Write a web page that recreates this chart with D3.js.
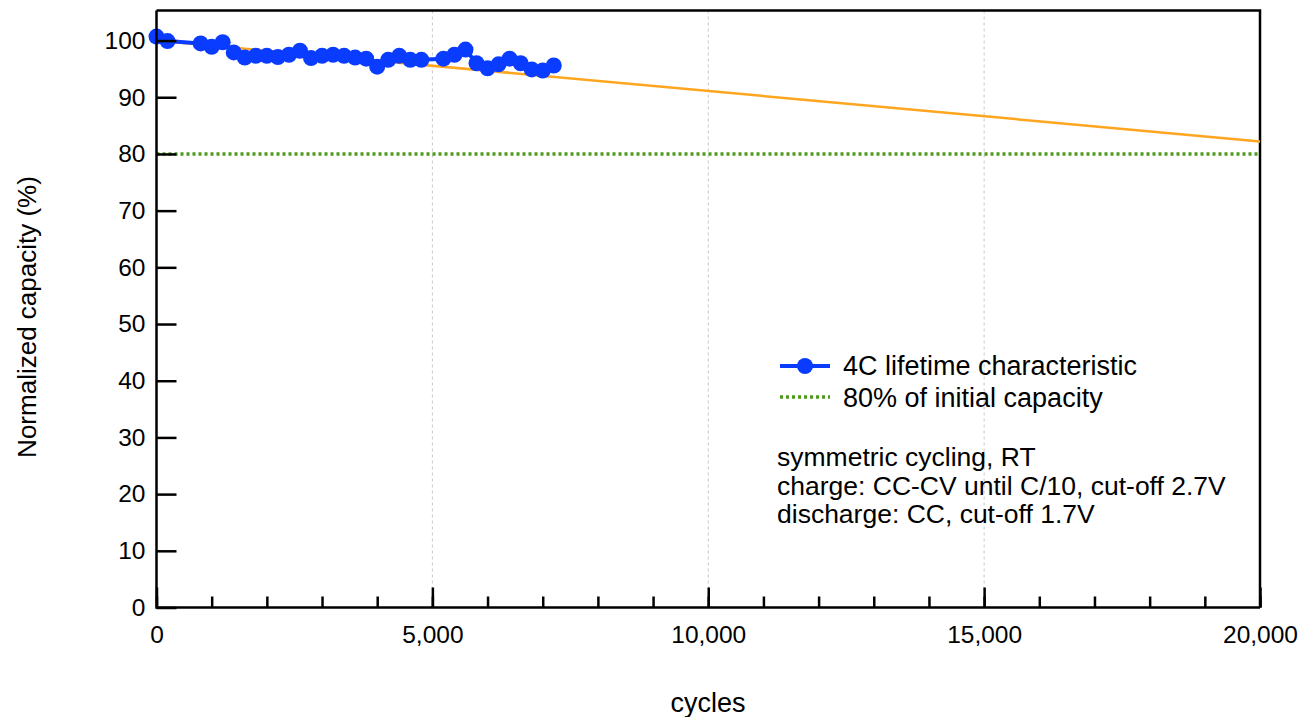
<!DOCTYPE html>
<html>
<head>
<meta charset="utf-8">
<script src="https://cdn.jsdelivr.net/npm/d3@7/dist/d3.min.js"></script>
<style>
  html, body { margin: 0; padding: 0; background: #fff; }
  svg { display: block; font-family: "Liberation Sans", Arial, sans-serif; }
</style>
</head>
<body>
<svg id="chart" width="1304" height="717"></svg>
<script>
// Measured cycles and normalized capacity for the 4C test
const cycles = [0, 200, 800, 1000, 1200, 1400, 1600, 1800, 2000, 2200, 2400, 2600, 2800, 3000,
  3200, 3400, 3600, 3800, 4000, 4200, 4400, 4600, 4800, 5200, 5400, 5600, 5800, 6000, 6200,
  6400, 6600, 6800, 7000, 7200];
const capacity = [100.7, 99.9, 99.5, 98.9, 99.7, 97.9, 97.0, 97.3, 97.3, 97.1, 97.5, 98.2, 96.9, 97.3,
  97.5, 97.3, 97.0, 96.8, 95.4, 96.6, 97.3, 96.6, 96.6, 96.8, 97.5, 98.4, 96.0, 95.1, 95.8,
  96.8, 96.0, 94.9, 94.7, 95.6];

// Linear fade projection (start and end of the fitted line)
const trendCycles = [0, 20000];
const trendCapacity = [100.0, 82.2];

const endOfLifeLevel = 80;

const xTicks = [0, 5000, 10000, 15000, 20000];
const xMinorTicks = d3.range(0, 20001, 1000);
const yTicks = [0, 10, 20, 30, 40, 50, 60, 70, 80, 90, 100];

const legendLabels = ["4C lifetime characteristic", "80% of initial capacity"];
const noteLines = ["symmetric cycling, RT", "charge: CC-CV until C/10, cut-off 2.7V", "discharge: CC, cut-off 1.7V"];

const svg = d3.select("#chart");
const plotL = 156.5, plotR = 1260, plotT = 10.5, plotB = 607.5;

const x = d3.scaleLinear().domain([0, 20000]).range([plotL, plotR]);
const y = d3.scaleLinear().domain([0, 105.3]).range([plotB, plotT]);

const blue = "#0a3cff", orange = "#ffa51f", green = "#4f9a1c";

// vertical dashed grid at the major cycle ticks
svg.append("g").selectAll("line")
  .data(xTicks.filter(d => d > 0 && d < 20000))
  .join("line")
  .attr("x1", d => x(d)).attr("x2", d => x(d))
  .attr("y1", plotT).attr("y2", plotB)
  .attr("stroke", "#c8c8c8").attr("stroke-width", 1)
  .attr("stroke-dasharray", "3,3");

// frame: top and right border
svg.append("path")
  .attr("d", `M${plotL},${plotT}H${plotR}V${plotB}`)
  .attr("fill", "none").attr("stroke", "#000").attr("stroke-width", 2.5);

// 80% reference line
svg.append("line")
  .attr("x1", x(0)).attr("x2", x(20000))
  .attr("y1", y(endOfLifeLevel)).attr("y2", y(endOfLifeLevel))
  .attr("stroke", green).attr("stroke-width", 3.5)
  .attr("stroke-dasharray", "3,3");

// projection line
svg.append("path")
  .datum(d3.zip(trendCycles, trendCapacity))
  .attr("fill", "none").attr("stroke", orange).attr("stroke-width", 2.5)
  .attr("d", d3.line().x(d => x(d[0])).y(d => y(d[1])));

// measured series
const pts = d3.zip(cycles, capacity);
svg.append("path")
  .datum(pts)
  .attr("fill", "none").attr("stroke", blue).attr("stroke-width", 4)
  .attr("stroke-linejoin", "round")
  .attr("d", d3.line().x(d => x(d[0])).y(d => y(d[1])));
svg.append("g").selectAll("circle")
  .data(pts).join("circle")
  .attr("cx", d => x(d[0])).attr("cy", d => y(d[1]))
  .attr("r", 8).attr("fill", blue);

// x axis with inward ticks
const xAxis = svg.append("g").attr("transform", `translate(0,${plotB})`);
xAxis.call(d3.axisBottom(x).tickValues(xMinorTicks).tickSize(-11).tickFormat(""))
  .call(g => g.select(".domain").remove());
xAxis.append("g").call(d3.axisBottom(x).tickValues(xTicks).tickSize(-20).tickPadding(14)
    .tickFormat(d3.format(",")))
  .call(g => g.select(".domain").remove());
xAxis.selectAll("line").attr("stroke", "#000").attr("stroke-width", 2.5);
xAxis.selectAll("text").attr("font-size", 24.5).attr("fill", "#000")
  .attr("font-family", "Liberation Sans, Arial, sans-serif").attr("dy", "0.71em").attr("y", 18);

// y axis with inward ticks
const yAxis = svg.append("g").attr("transform", `translate(${plotL},0)`);
yAxis.call(d3.axisLeft(y).tickValues(yTicks).tickSize(-20).tickPadding(10))
  .call(g => g.select(".domain").remove());
yAxis.selectAll("line").attr("stroke", "#000").attr("stroke-width", 2.5);
yAxis.selectAll("text").attr("font-size", 24.5).attr("fill", "#000")
  .attr("font-family", "Liberation Sans, Arial, sans-serif").attr("x", -11);

// axis lines
svg.append("path")
  .attr("d", `M${plotL},${plotT}V${plotB}H${plotR}`)
  .attr("fill", "none").attr("stroke", "#000").attr("stroke-width", 2.5);

// axis titles
svg.append("text")
  .attr("x", 708).attr("y", 712)
  .attr("text-anchor", "middle").attr("font-size", 27).text("cycles");
svg.append("text")
  .attr("transform", "translate(36,317) rotate(-90)")
  .attr("text-anchor", "middle").attr("font-size", 26).text("Normalized capacity (%)");

// legend
const lg = svg.append("g").attr("transform", "translate(780,366)");
lg.append("line").attr("x1", 0).attr("x2", 50).attr("y1", 0).attr("y2", 0)
  .attr("stroke", blue).attr("stroke-width", 4);
lg.append("circle").attr("cx", 25).attr("cy", 0).attr("r", 8).attr("fill", blue);
lg.append("line").attr("x1", 0).attr("x2", 50).attr("y1", 31).attr("y2", 31)
  .attr("stroke", green).attr("stroke-width", 3.5).attr("stroke-dasharray", "3,3");
lg.selectAll("text.lab").data(legendLabels).join("text")
  .attr("class", "lab")
  .attr("x", 63).attr("y", (d, i) => i * 32 + 9)
  .attr("font-size", 27).text(d => d);

// test conditions note
svg.append("g").selectAll("text").data(noteLines).join("text")
  .attr("x", 777).attr("y", (d, i) => 466 + i * 28.5)
  .attr("font-size", 26.5).text(d => d);
</script>
</body>
</html>
